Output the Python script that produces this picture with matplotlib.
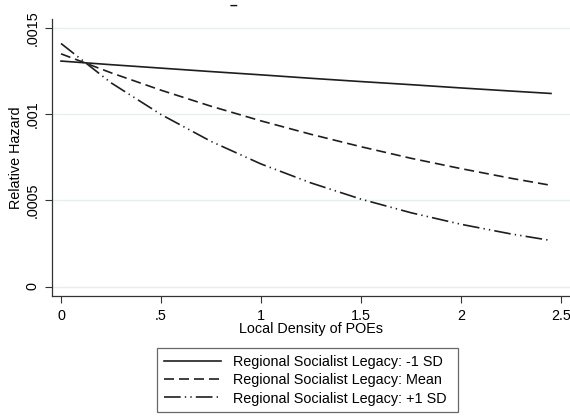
import matplotlib
matplotlib.use("Agg")
import matplotlib.pyplot as plt

plt.rcParams['font.family'] = ['Liberation Sans', 'DejaVu Sans']

# values
density = [0, 0.25, 0.5, 0.75, 1.0, 1.25, 1.5, 1.75, 2.0, 2.25, 2.45]
haz_low = [0.001308, 0.001287, 0.001267, 0.001247, 0.001228, 0.001208,
           0.001189, 0.001171, 0.001152, 0.001134, 0.001120]
haz_mean = [0.001350, 0.001240, 0.001139, 0.001046, 0.000961, 0.000883,
            0.000811, 0.000744, 0.000684, 0.000628, 0.000587]
haz_high = [0.001410, 0.001182, 0.000998, 0.000842, 0.000711, 0.000601,
            0.000507, 0.000428, 0.000361, 0.000305, 0.000267]

labels = ["Regional Socialist Legacy: -1 SD",
          "Regional Socialist Legacy: Mean",
          "Regional Socialist Legacy: +1 SD"]

xticks = [0, 0.5, 1, 1.5, 2, 2.5]
xtick_labels = ["0", ".5", "1", "1.5", "2", "2.5"]
yticks = [0, 0.0005, 0.001, 0.0015]
ytick_labels = ["0", ".0005", ".001", ".0015"]

fig = plt.figure(figsize=(5.7, 4.16), dpi=100)
ax = fig.add_axes([52 / 570, 1 - 296 / 416, 1 - 52 / 570, (296 - 19) / 416])

line_col = "#1e1e1e"
ax.plot(density, haz_low, color=line_col, lw=1.2, label=labels[0])
ax.plot(density, haz_mean, color=line_col, lw=1.2, dashes=(6, 3), label=labels[1])
ax.plot(density, haz_high, color=line_col, lw=1.2,
        dashes=(10, 2.5, 0.8, 2.5, 0.8, 2.5), label=labels[2])

ax.set_xlim(-0.045, 2.545)
ax.set_ylim(-0.000055, 0.001552)

ax.set_xticks(xticks)
ax.set_xticklabels(xtick_labels, fontsize=10.4)
ax.set_yticks(yticks)
ax.set_yticklabels(ytick_labels, fontsize=10.4, rotation=90, va="center")
ax.tick_params(direction="out", length=5, width=0.8, color="#333333", pad=4)

ax.grid(axis="y", color="#e6eff0", lw=1.0)
ax.set_axisbelow(True)
for s in ["top", "right"]:
    ax.spines[s].set_visible(False)
for s in ["left", "bottom"]:
    ax.spines[s].set_color("#333333")
    ax.spines[s].set_linewidth(0.9)

ax.set_xlabel("Local Density of POEs", fontsize=10.4, labelpad=0)
ax.set_ylabel("Relative Hazard", fontsize=10.4, labelpad=2)

# small leftover mark of a clipped title at the top
fig.text(233 / 570, 1 - 6 / 416, "\u2013", fontsize=10, ha="center", va="center",
         color="#111111", fontweight="bold")

leg = fig.legend(loc="lower left",
                 bbox_to_anchor=(157 / 570, 1 - 412 / 416, 301 / 570, 68 / 416),
                 mode="expand", ncol=1, fontsize=10.4, frameon=True, fancybox=False,
                 handlelength=4.0, borderpad=0.45, labelspacing=0.3,
                 borderaxespad=0, edgecolor="#444444")
leg.get_frame().set_linewidth(0.9)

fig.savefig("out.png", dpi=100)
